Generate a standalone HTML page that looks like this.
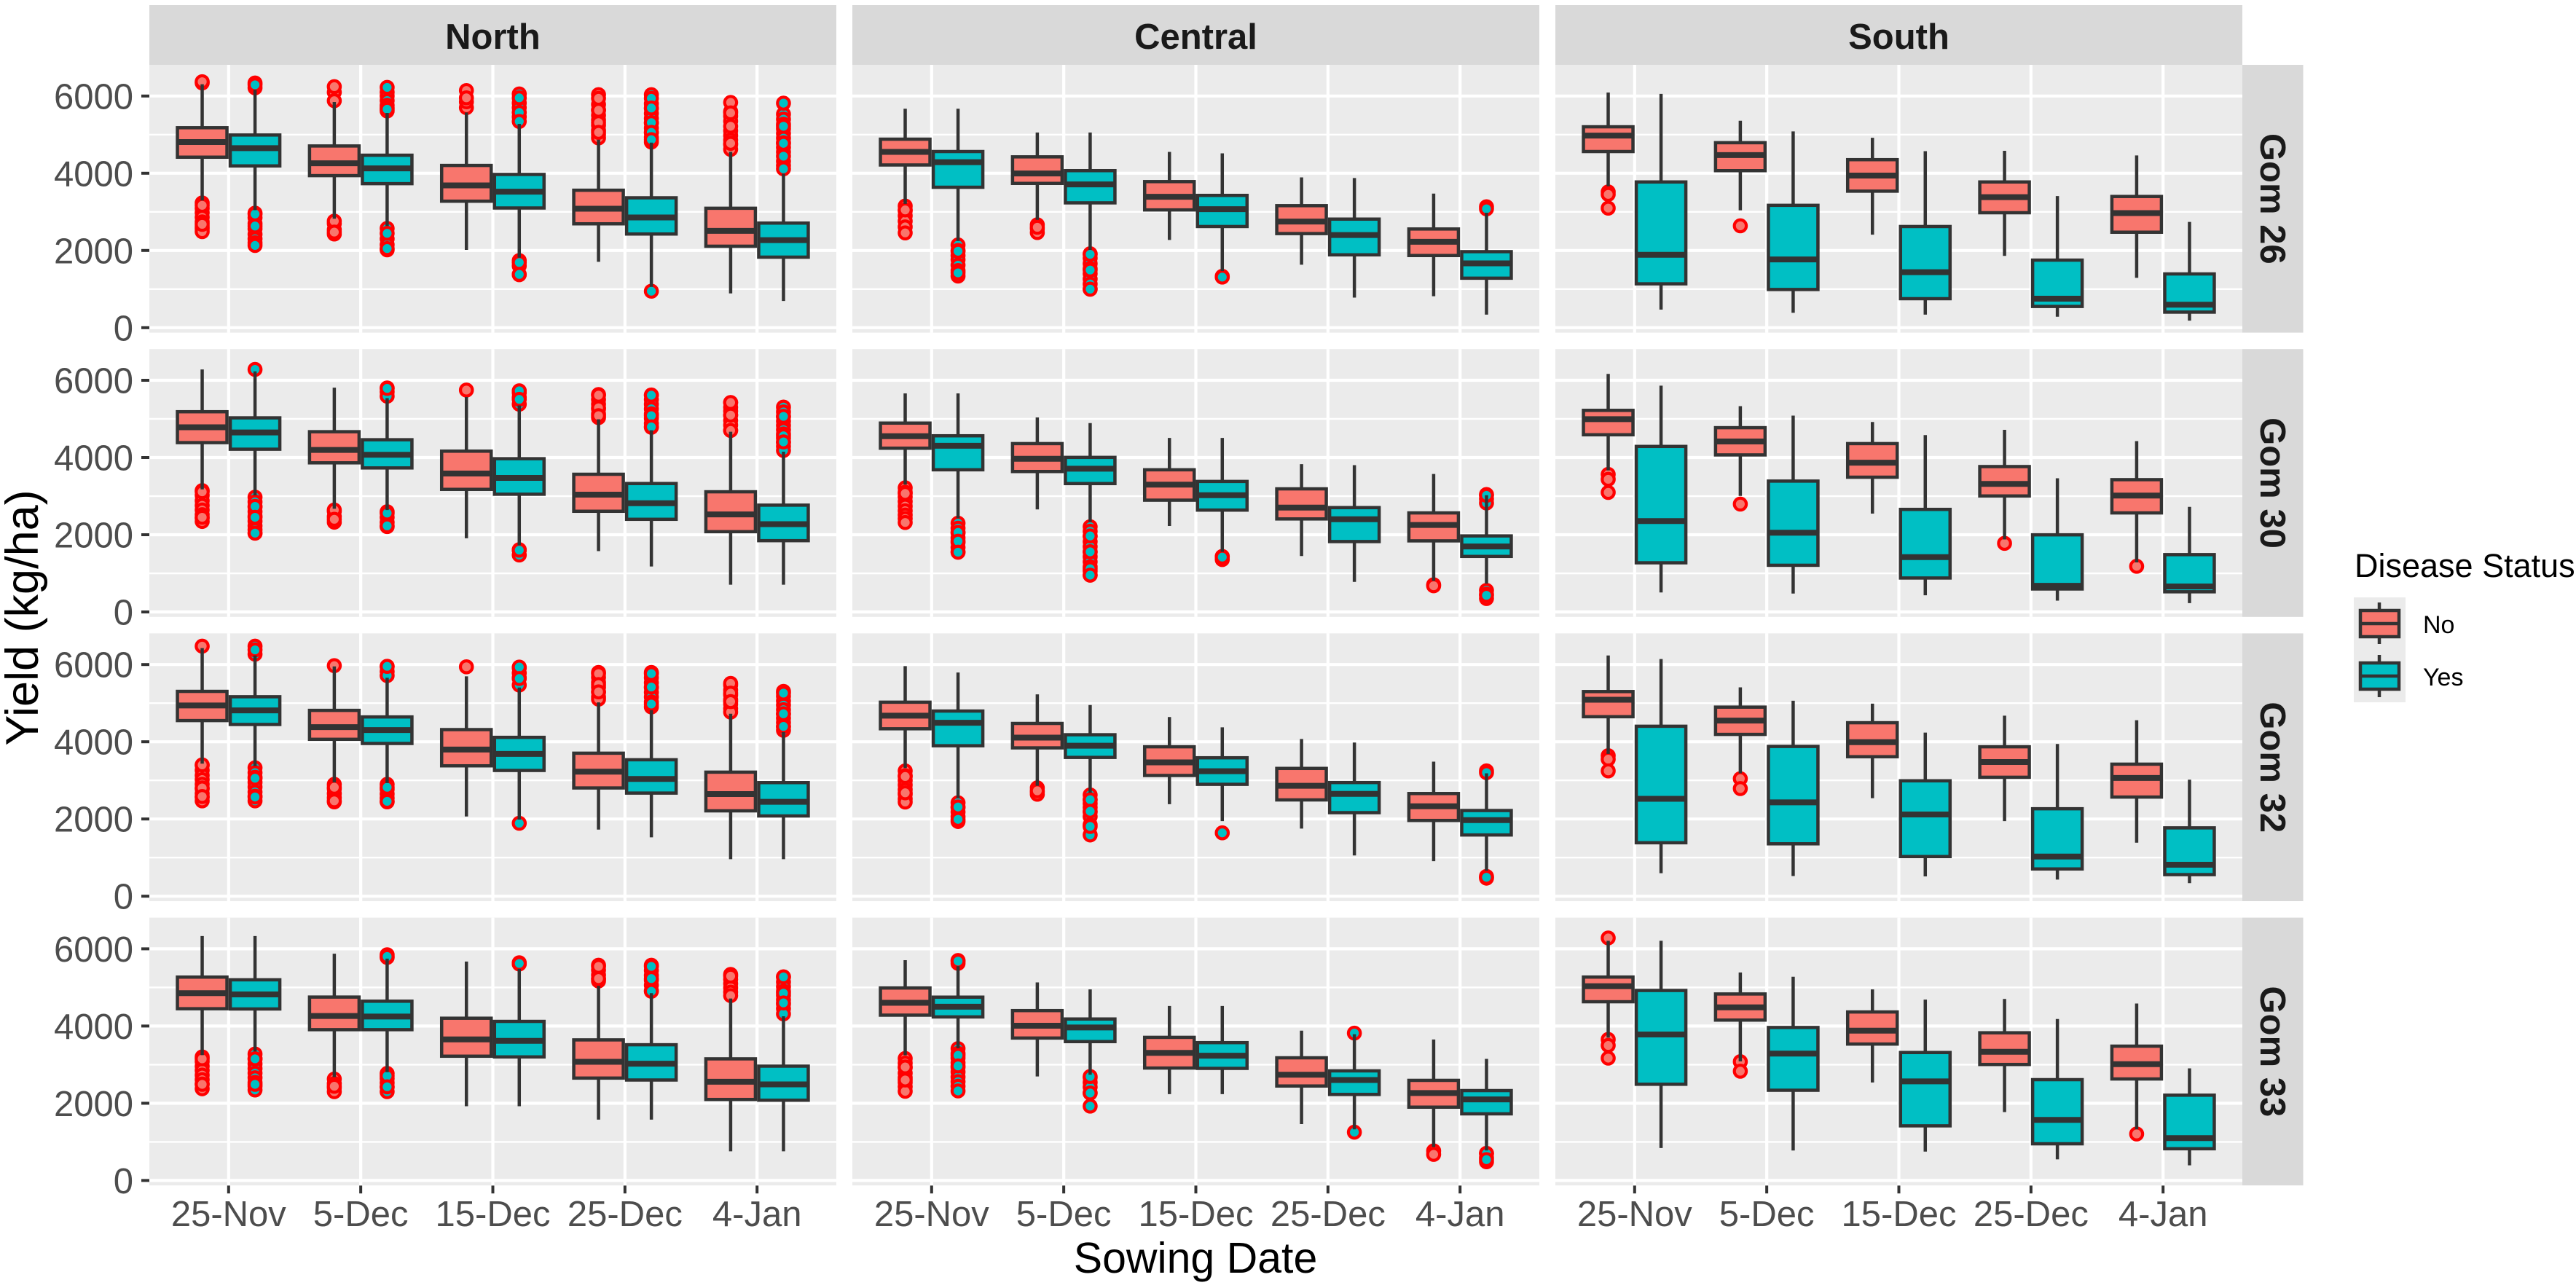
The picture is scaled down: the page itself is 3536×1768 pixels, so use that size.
<!DOCTYPE html>
<html lang="en">
<head>
<meta charset="utf-8">
<title>Yield by sowing date, region and cultivar</title>
<style>
html,body{margin:0;padding:0;background:#fff;width:3536px;height:1768px;overflow:hidden}
svg{display:block;font-family:"Liberation Sans",Arial,sans-serif}
</style>
</head>
<body>
<svg id="chart" xmlns="http://www.w3.org/2000/svg" width="3536" height="1768" viewBox="0 0 3536 1768">
  <rect x="0" y="0" width="3536" height="1768" fill="#ffffff"/>
  <g id="panels"></g>
  <text transform="translate(52,848) rotate(-90)" text-anchor="middle" font-size="63" fill="#000">Yield (kg/ha)</text>
  <text x="1641" y="1747" text-anchor="middle" font-size="59" fill="#000">Sowing Date</text>
  <g>
    <text x="3232" y="792" font-size="45" fill="#000">Disease Status</text>
    <g>
      <rect x="3231" y="820" width="71" height="72" fill="#ebebeb"/>
      <line x1="3266" x2="3266" y1="827" y2="884" stroke="#333" stroke-width="4.5"/>
      <rect x="3240" y="838" width="53" height="36" fill="#F8766D" stroke="#333" stroke-width="4.5"/>
      <line x1="3240" x2="3293" y1="856" y2="856" stroke="#333" stroke-width="4.5"/>
      <text x="3326" y="869" font-size="34" fill="#000">No</text>
    </g>
    <g>
      <rect x="3231" y="892" width="71" height="72" fill="#ebebeb"/>
      <line x1="3266" x2="3266" y1="899" y2="957" stroke="#333" stroke-width="4.5"/>
      <rect x="3240" y="910" width="53" height="36" fill="#00BFC4" stroke="#333" stroke-width="4.5"/>
      <line x1="3240" x2="3293" y1="928" y2="928" stroke="#333" stroke-width="4.5"/>
      <text x="3326" y="941" font-size="34" fill="#000">Yes</text>
    </g>
  </g>
</svg>
<script>
// Categories and tick labels
const regions = ["North", "Central", "South"];
const cultivars = ["Gom 26", "Gom 30", "Gom 32", "Gom 33"];
const sowingDates = ["25-Nov", "5-Dec", "15-Dec", "25-Dec", "4-Jan"];
const diseaseStatus = ["No", "Yes"];
const yMajorTicks = [0, 2000, 4000, 6000];
const yMinorTicks = [1000, 3000, 5000];

// Box statistics: [q1, median, q3, lower whisker, upper whisker]
// Each array: No, Yes for 25-Nov, then 5-Dec, 15-Dec, 25-Dec, 4-Jan
const northGom26Stats = [[4416,4807,5179,3295,6306],[4190,4650,4990,3043,6161],[3938,4259,4706,2822,5846],[3730,4127,4467,2633,5563],[3276,3685,4202,2016,5575],[3100,3522,3969,1814,5279],[2690,3081,3560,1707,4870],[2426,2854,3364,1058,4794],[2110,2507,3093,888,4555],[1827,2268,2709,693,3988]];
const northGom30Stats = [[4385,4782,5185,3175,6281],[4215,4649,5027,3018,6231],[3862,4196,4668,2671,5809],[3730,4070,4460,2640,5538],[3175,3585,4164,1909,5569],[3049,3471,3969,1726,5349],[2608,3037,3566,1575,4990],[2400,2816,3326,1178,4706],[2079,2526,3112,706,4668],[1846,2274,2766,706,4152]];
const northGom32Stats = [[4549,4939,5305,3433,6426],[4448,4813,5166,3370,6237],[4064,4379,4813,2948,5953],[3956,4303,4643,2930,5657],[3377,3799,4315,2066,5695],[3257,3685,4114,1984,5405],[2804,3225,3704,1726,5021],[2671,3037,3534,1525,4820],[2211,2646,3213,958,4725],[2079,2444,2942,958,4252]];
const northGom33Stats = [[4448,4851,5267,3245,6331],[4442,4820,5197,3339,6331],[3906,4259,4750,2678,5872],[3906,4246,4643,2804,5746],[3219,3654,4202,1922,5670],[3200,3616,4120,1922,5481],[2652,3074,3641,1575,5040],[2602,3024,3515,1575,4851],[2098,2558,3150,756,4712],[2079,2489,2961,756,4252]];
const centralGom26Stats = [[4214,4553,4882,3206,5670],[3637,4287,4562,2244,5670],[3737,3994,4424,2794,5056],[3233,3710,4067,2015,5056],[3050,3389,3783,2272,4552],[2620,3069,3426,1466,4516],[2437,2748,3160,1630,3893],[1887,2400,2812,779,3875],[1869,2226,2556,815,3472],[1282,1667,1969,339,2977]];
const centralGom30Stats = [[4241,4553,4891,3298,5661],[3682,4305,4562,2427,5661],[3637,3966,4360,2656,5038],[3325,3710,4003,2336,4891],[2895,3298,3682,2226,4507],[2638,3023,3380,1557,4507],[2409,2702,3188,1447,3829],[1823,2400,2702,779,3801],[1841,2253,2565,806,3572],[1438,1695,1969,733,3023]];
const centralGom32Stats = [[4337,4677,5025,3320,5960],[3897,4493,4796,2540,5795],[3842,4108,4475,2861,5227],[3595,3897,4182,2678,4952],[3127,3466,3870,2384,4640],[2898,3237,3585,1944,4374],[2494,2861,3310,1751,4071],[2164,2650,2944,1055,3980],[1962,2329,2659,908,3485],[1586,1971,2219,660,3182]];
const centralGom33Stats = [[4282,4602,4985,3241,5706],[4236,4501,4748,3424,5551],[3689,4008,4400,2693,5131],[3597,3962,4182,2739,4948],[2912,3305,3707,2237,4519],[2903,3232,3570,2237,4519],[2447,2739,3177,1461,3880],[2228,2602,2839,1324,3789],[1899,2264,2593,867,3652],[1726,2100,2328,776,3150]];
const southGom26Stats = [[4562,4974,5203,3664,6091],[1136,1887,3774,467,6055],[4067,4470,4791,3041,5359],[989,1768,3169,385,5084],[3536,3939,4351,2409,4919],[751,1438,2620,339,4571],[2977,3380,3774,1859,4580],[550,751,1750,284,3408],[2473,2968,3398,1292,4461],[403,595,1392,183,2739]];
const southGom30Stats = [[4589,4992,5221,3664,6165],[1273,2354,4287,504,5862],[4067,4415,4772,3004,5331],[1209,2052,3389,476,5084],[3490,3866,4360,2546,4919],[879,1420,2656,431,4580],[3004,3316,3765,1878,4717],[595,678,1997,293,3462],[2565,3014,3426,1282,4424],[522,660,1484,229,2721]];
const southGom32Stats = [[4649,5089,5300,3686,6236],[1385,2522,4402,596,6144],[4191,4548,4897,3182,5410],[1357,2430,3879,523,5062],[3613,3989,4493,2540,4988],[1027,2118,2989,514,4237],[3081,3475,3870,1944,4677],[706,1027,2265,431,3943],[2568,3063,3420,1385,4557],[559,816,1770,339,3017]];
const southGom33Stats = [[4629,5031,5268,3698,6208],[2492,3780,4921,840,6208],[4154,4483,4830,3086,5387],[2337,3287,3962,776,5277],[3533,3880,4364,2538,4948],[1415,2566,3314,749,4684],[3004,3332,3825,1771,4702],[950,1570,2611,548,4182],[2629,3013,3479,1324,4583],[822,1096,2209,393,2903]];

// Outlier values, same order as the box statistics (later values draw on top)
const northGom26Outliers = [[6340,6370,3232,3090,2980,2860,2740,2610,2560,2488,3169,2677],[6338,6212,6290,2967,2850,2700,2560,2420,2300,2200,2130,2944,2633],[6098,5878,6243,2700,2426,2540,2760,2476],[6100,6000,5880,5760,5613,5700,6224,5657,2570,2300,2150,2016,2444,2050],[5700,5850,6142,5953],[6054,5820,5700,5460,5953,5575,5342,1739,1600,1373,1688,1380],[6035,5780,5640,5500,5380,5240,5110,5000,4914,5941,5630,5311,5059],[6035,5800,5680,5550,5420,5300,5170,5050,4930,4807,5941,5689,5311,5059,4870,945],[5600,5480,5350,5100,4980,4860,4740,4618,5834,5563,5216,4775],[5530,5400,5270,5150,5030,4910,4790,4670,4550,4310,4200,4114,5815,5216,4775,4441]];
const northGom30Outliers = [[3144,3020,2880,2760,2640,2520,2430,2344,3112,2451],[6281,2974,2850,2720,2600,2480,2350,2230,2130,2041,2734,2451,2041],[2608,2470,2325,2640,2400],[5802,5700,5588,5790,2596,2450,2320,2211,2560,2230],[5746],[5676,5560,5380,5727,5506,1613,1474,1600],[5632,5500,5380,5260,5130,5034,5613,5286,5084],[5620,5500,5380,5260,5130,5010,4880,4782,5613,5084,4794],[5424,5300,5200,5097,4960,4840,4700,5424,5097,4700],[5305,5180,5060,4940,4830,4720,4610,4500,4390,4290,4183,5065,4561,4404]];
const northGom32Outliers = [[6476,3389,3260,3130,3020,2900,2780,2660,2560,2470,3402,2804,2583],[6476,6268,6380,3326,3200,3080,2950,2830,2700,2590,2470,3055,2570],[5972,2898,2780,2660,2550,2444,2822,2470],[5953,5820,5714,5953,2898,2770,2650,2540,2444,2822,2457],[5941],[5909,5780,5660,5468,5935,5638,1890],[5796,5670,5540,5410,5290,5160,5103,5764,5481,5292],[5796,5660,5530,5400,5280,5160,5030,4901,5764,5418,4977],[5468,5340,5210,5090,4980,4860,4769,5513,5260,5040],[5305,5180,5060,4950,4830,4720,4610,4500,4390,4297,5260,4725,4397]];
const northGom33Outliers = [[3200,3080,2960,2850,2730,2610,2500,2375,3150,2489],[3276,3150,3020,2900,2780,2660,2540,2440,2344,3150,2489],[2627,2510,2400,2300,2440],[5846,5777,5800,2772,2640,2530,2420,2300,2709,2426],[],[5638,5607,5620],[5575,5450,5320,5220,5166,5544,5229],[5575,5440,5310,5190,5060,4914,5544,5229,4900],[5336,5210,5100,4990,4880,4788,5292],[5273,5140,5020,4900,4790,4680,4570,4450,4315,5273,4851,4599]];
const centralGom26Outliers = [[3151,3030,2900,2760,2610,2455,3050],[2143,2000,1870,1760,1620,1480,1337,1980,1420],[2666,2560,2464,2600],[1914,1800,1660,1530,1400,1260,1130,998,1900,1493,998],[],[1330,1310],[],[],[],[3133,3078]];
const centralGom30Outliers = [[3215,3100,2980,2860,2740,2620,2510,2420,2317,3069],[2299,2170,2050,1920,1800,1670,1548,2061,1832,1548],[],[2207,2090,1960,1820,1690,1560,1430,1300,1170,1060,953,1969,1557,1118,953],[],[1438,1356,1420],[],[],[705,678],[3041,2930,2821,3020,559,460,348,430]];
const centralGom32Outliers = [[3246,3120,3000,2880,2760,2640,2520,2439,3100,2678],[2421,2300,2180,2060,1935,2311,1990],[2806,2700,2641,2730],[2623,2500,2400,2300,2180,2060,1850,1586,2500,2200,1806],[],[1641],[],[],[],[3246,3200,513,468,490]];
const centralGom33Outliers = [[3159,3040,2920,2780,2660,2540,2430,2310,2940,2602],[5697,5624,5680,3415,3290,3170,3050,2930,2810,2680,2560,2440,2319,3241,2967],[],[2666,2540,2420,2264,1926,2693,2264],[],[],[],[3816,1251],[767,676],[703,590,484,700,540]];
const southGom26Outliers = [[3517,3453,3096],[],[2638],[],[],[],[],[],[],[]];
const southGom30Outliers = [[3563,3435,3096],[],[2794],[],[],[],[1777],[],[1182],[]];
const southGom32Outliers = [[3640,3549,3246],[],[3044,2788],[],[],[],[],[],[],[]];
const southGom33Outliers = [[6281,3652,3497,3168],[],[3077,2830],[],[],[],[],[],[1205],[]];

const panelStats = [
  [northGom26Stats, northGom30Stats, northGom32Stats, northGom33Stats],
  [centralGom26Stats, centralGom30Stats, centralGom32Stats, centralGom33Stats],
  [southGom26Stats, southGom30Stats, southGom32Stats, southGom33Stats]
];
const panelOutliers = [
  [northGom26Outliers, northGom30Outliers, northGom32Outliers, northGom33Outliers],
  [centralGom26Outliers, centralGom30Outliers, centralGom32Outliers, centralGom33Outliers],
  [southGom26Outliers, southGom30Outliers, southGom32Outliers, southGom33Outliers]
];

// Layout
const SVG_NS = "http://www.w3.org/2000/svg";
const PANEL_W = 943, PANEL_H = 367.6;
const statusFill = ["#F8766D", "#00BFC4"];
const statusKey = ["no", "yes"];
const root = document.getElementById("panels");

function colLeft(c) { return 205 + c * 965; }
function rowTop(r) { return 89 + r * 390.2; }
function xBand() { return PANEL_W / 5.2; }
function xScale(c, d) { return colLeft(c) + (d + 0.6) * xBand(); }
function dodgeX(c, d, s) { return xScale(c, d) + (s === 0 ? -0.2 : 0.2) * xBand(); }
function yScale(r, v) { return rowTop(r) + 360.8 - v * 0.053; }

function make(tag, attrs, parent) {
  const node = document.createElementNS(SVG_NS, tag);
  for (const k in attrs) node.setAttribute(k, attrs[k]);
  parent.appendChild(node);
  return node;
}

regions.forEach(function (region, c) {
  const strip = make("rect", {x: colLeft(c), y: 7, width: PANEL_W, height: 82, fill: "#d9d9d9"}, root);
  
  
  const stripText = make("text", {x: colLeft(c) + PANEL_W / 2, y: 67, "text-anchor": "middle", "font-size": 49, "font-weight": "bold", fill: "#1a1a1a"}, root);
  
  
  stripText.textContent = region;
});

cultivars.forEach(function (cultivar, r) {
  const strip = make("rect", {x: 3078, y: rowTop(r), width: 83.5, height: PANEL_H, fill: "#d9d9d9"}, root);
  
  
  const cy = rowTop(r) + PANEL_H / 2;
  const stripText = make("text", {transform: "translate(3103," + cy + ") rotate(90)", "text-anchor": "middle", "font-size": 49, "font-weight": "bold", fill: "#1a1a1a"}, root);
  
  
  stripText.textContent = cultivar;

  yMajorTicks.forEach(function (t) {
    const y = yScale(r, t);
    const tick = make("line", {x1: 194, x2: 205, y1: y, y2: y, stroke: "#333", "stroke-width": 4}, root);
    
    
    const label = make("text", {x: 183, y: y + 17.5, "text-anchor": "end", "font-size": 49, fill: "#4d4d4d"}, root);
    
    
    label.textContent = String(t);
  });
});

regions.forEach(function (region, c) {
  sowingDates.forEach(function (date, d) {
    const x = xScale(c, d);
    const tick = make("line", {x1: x, x2: x, y1: rowTop(3) + PANEL_H, y2: rowTop(3) + PANEL_H + 11, stroke: "#333", "stroke-width": 4}, root);
    
    
    const label = make("text", {x: x, y: 1683, "text-anchor": "middle", "font-size": 49, fill: "#4d4d4d"}, root);
    
    
    label.textContent = date;
  });

  cultivars.forEach(function (cultivar, r) {
    const panel = make("g", {}, root);
    
    
    const bg = make("rect", {x: colLeft(c), y: rowTop(r), width: PANEL_W, height: PANEL_H, fill: "#ebebeb"}, panel);
    
    

    yMinorTicks.forEach(function (t) {
      const y = yScale(r, t);
      const line = make("line", {x1: colLeft(c), x2: colLeft(c) + PANEL_W, y1: y, y2: y, stroke: "#fff", "stroke-width": 2.4}, panel);
      
      
    });
    yMajorTicks.forEach(function (t) {
      const y = yScale(r, t);
      const line = make("line", {x1: colLeft(c), x2: colLeft(c) + PANEL_W, y1: y, y2: y, stroke: "#fff", "stroke-width": 4.2}, panel);
      
      
    });
    sowingDates.forEach(function (date, d) {
      const x = xScale(c, d);
      const line = make("line", {x1: x, x2: x, y1: rowTop(r), y2: rowTop(r) + PANEL_H, stroke: "#fff", "stroke-width": 4.2}, panel);
      
      
    });

    const stats = panelStats[c][r];
    const outliers = panelOutliers[c][r];
    stats.forEach(function (box, i) {
      const d = Math.floor(i / 2), s = i % 2;
      const cx = dodgeX(c, d, s);
      const halfW = 0.1875 * xBand();
      const group = make("g", {}, panel);
      
      

      outliers[i].forEach(function (v) {
        const pt = make("circle", {cx: cx, cy: yScale(r, v), r: 8.2, fill: statusFill[s], stroke: "#ff0000", "stroke-width": 4.2}, group);
        
        
      });

      const whisker = make("line", {x1: cx, x2: cx, y1: yScale(r, box[3]), y2: yScale(r, box[4]), stroke: "#333", "stroke-width": 4.5}, group);
      
      

      const body = make("rect", {x: cx - halfW, y: yScale(r, box[2]), width: 2 * halfW, height: yScale(r, box[0]) - yScale(r, box[2]), fill: statusFill[s], stroke: "#333", "stroke-width": 4.5}, group);
      
      

      const median = make("line", {x1: cx - halfW, x2: cx + halfW, y1: yScale(r, box[1]), y2: yScale(r, box[1]), stroke: "#333", "stroke-width": 8}, group);
      
      
    });
  });
});
</script>
</body>
</html>
